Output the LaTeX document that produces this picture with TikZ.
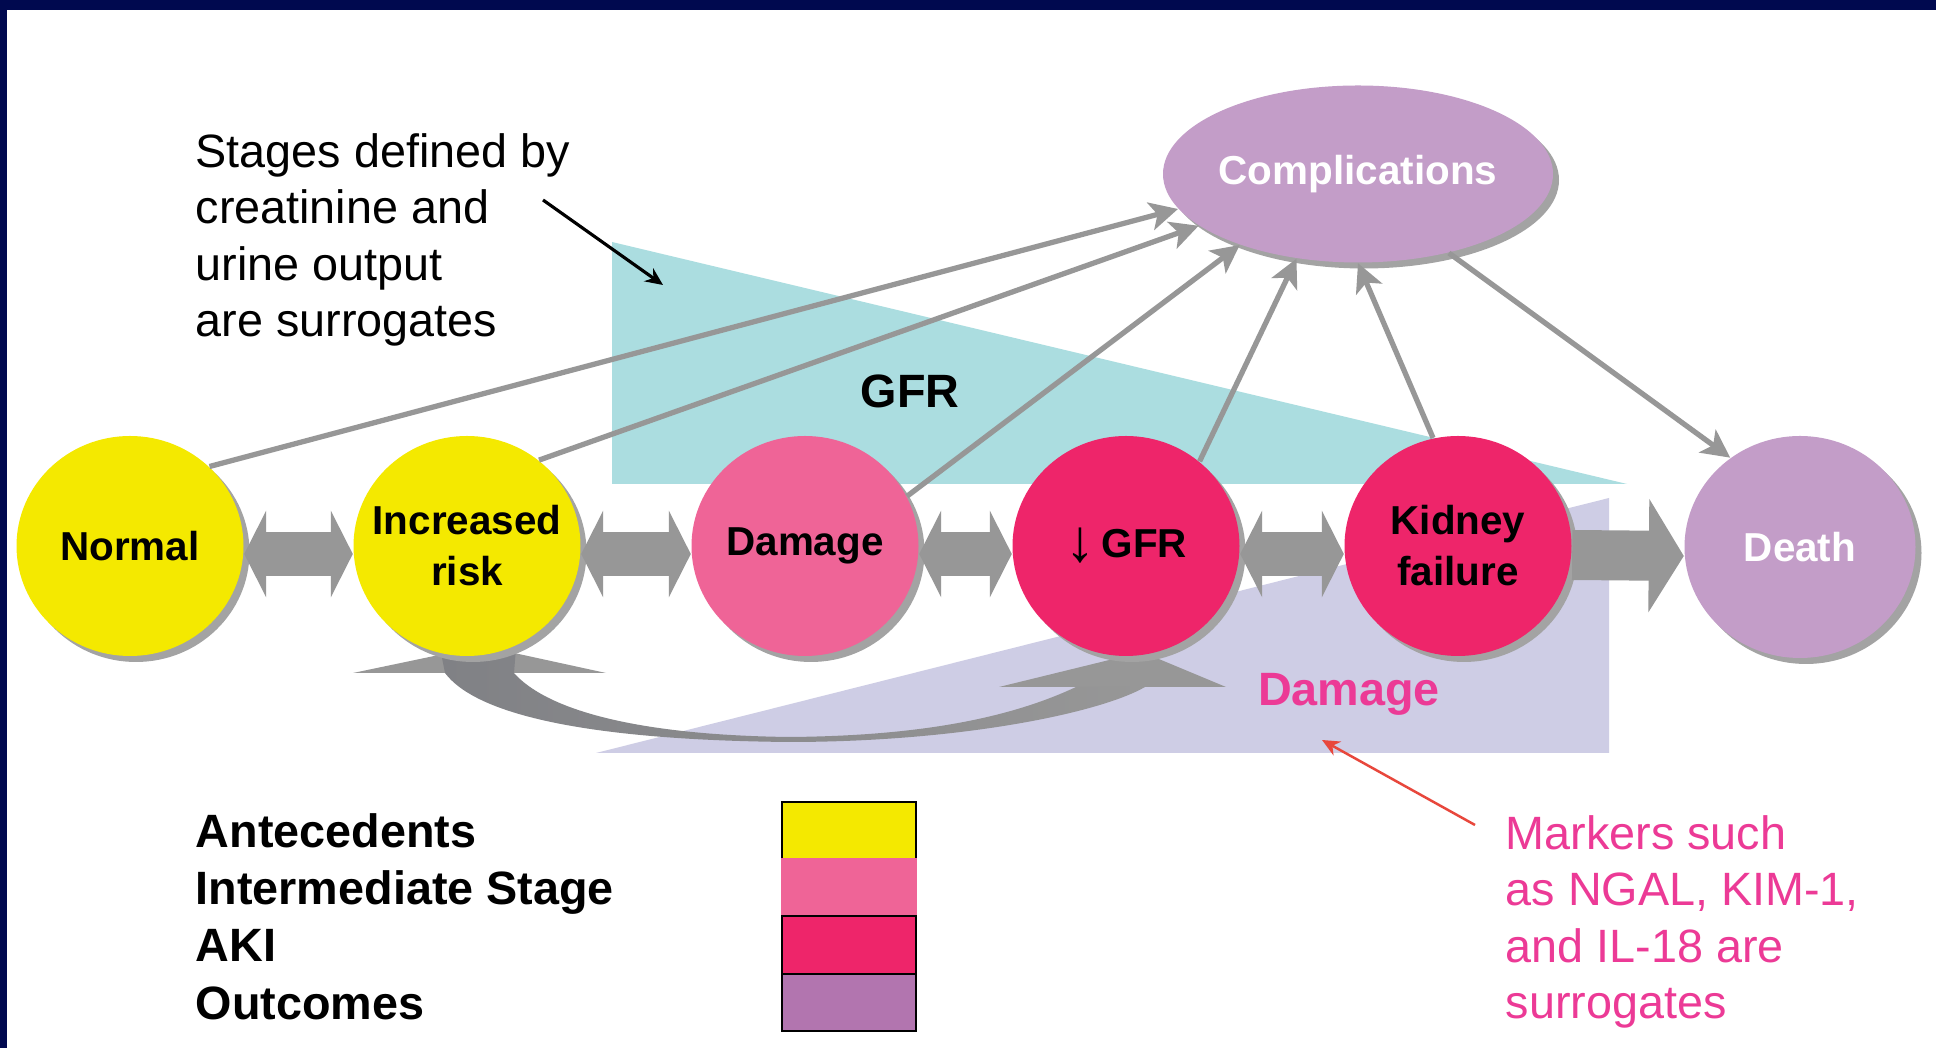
\documentclass[tikz,border=0pt]{standalone}
\usepackage{fontspec}
\setmainfont{Liberation Sans}
\usetikzlibrary{arrows.meta,shapes.geometric,shadows}

\definecolor{navy}{HTML}{00094F}
\definecolor{antec}{HTML}{F4E900}
\definecolor{inter}{HTML}{EF6497}
\definecolor{aki}{HTML}{EE256A}
\definecolor{outc}{HTML}{C39DC8}
\definecolor{outcleg}{HTML}{B275AF}
\definecolor{gfrcyan}{HTML}{ABDDE0}
\definecolor{dmglav}{HTML}{CECDE5}
\definecolor{markpink}{HTML}{EC3A96}
\definecolor{markred}{HTML}{E8473C}
\definecolor{arrowgray}{HTML}{979797}
\definecolor{curvegray}{HTML}{808185}
\definecolor{shadowgray}{HTML}{A3A3A3}

\tikzset{
  stage/.style={ellipse, fill=#1, minimum width=2.27cm, minimum height=2.2cm,
    inner sep=-3mm, align=center, font=\fontsize{11.5}{14.5}\selectfont\bfseries,
    drop shadow={shadow xshift=0.6mm, shadow yshift=-0.6mm, fill=shadowgray, opacity=1}},
  bigtext/.style={font=\fontsize{13.3}{16.1}\selectfont, inner sep=0pt},
  feed/.style={draw=arrowgray, line width=1.5pt, -{Stealth[length=8pt,width=8pt,inset=2pt]}},
  twoway/.style={arrowgray, line width=4.4mm,
    {Triangle[length=2.2mm,width=8.6mm]}-{Triangle[length=2.2mm,width=8.6mm]}},
  oneway/.style={arrowgray, line width=5mm, -{Triangle[length=3.5mm,width=11.2mm]}}
}

\begin{document}
\begin{tikzpicture}
  \useasboundingbox (0,0) rectangle (19.36,10.48);
  \fill[navy] (0,0) rectangle (19.36,10.48);
  \fill[white] (0.07,0) rectangle (19.36,10.38);

  \fill[gfrcyan] (6.12,8.06) -- (6.12,5.64) -- (16.27,5.64) -- cycle;
  \fill[dmglav] (5.96,2.95) -- (16.09,5.50) -- (16.09,2.95) -- cycle;
  \node[bigtext, font=\fontsize{13.3}{16.1}\selectfont\bfseries] (gfrlab) at (9.10,6.57) {GFR};
  \node[bigtext, font=\fontsize{13.3}{16.1}\selectfont\bfseries, text=markpink, anchor=base]
    (dmglab) at (13.49,3.42) {Damage};

  \fill[arrowgray] (3.53,3.75) -- (4.82,4.02) -- (6.06,3.75) -- cycle;
  \fill[arrowgray] (9.99,3.61) -- (11.42,3.96) -- (12.26,3.61) -- cycle;
  \shade[left color=curvegray, right color=arrowgray] (4.40,4.00) -- (4.45,3.75)
    .. controls (4.75,3.35) and (5.8,3.08) .. (7.89,3.06)
    .. controls (9.6,3.06) and (11.0,3.35) .. (11.45,3.61) -- (10.76,3.61)
    .. controls (10.1,3.30) and (9.2,3.12) .. (7.89,3.11)
    .. controls (6.3,3.13) and (5.45,3.40) .. (5.14,3.75) -- (5.16,4.00) -- cycle;

  \node[stage=antec] (normal) at (1.30,5.02) {Normal};
  \node[stage=antec] (incr) at (4.67,5.02) {Increased\\risk};
  \node[stage=inter] (damage) at (8.05,5.02) {Damage};
  \node[stage=aki] (gfr) at (11.26,5.02) {\raisebox{-0.12em}{\fontsize{17}{17}\selectfont\mdseries ↓}\,GFR};
  \node[stage=aki] (kidney) at (14.58,5.02) {Kidney\\failure};
  \node[stage=outc, text=white, minimum width=2.31cm, minimum height=2.22cm] (death) at (18.00,5.01) {Death};
  \node[stage=outc, text=white, minimum width=3.9cm, minimum height=1.77cm] (compl) at (13.58,8.74) {Complications};

  \draw[twoway] ([yshift=-0.8mm]normal.east) -- ([yshift=-0.8mm]incr.west);
  \draw[twoway] ([yshift=-0.8mm]incr.east) -- ([yshift=-0.8mm]damage.west);
  \draw[twoway] ([yshift=-0.8mm]damage.east) -- ([yshift=-0.8mm]gfr.west);
  \draw[twoway] ([yshift=-0.8mm]gfr.east) -- ([yshift=-0.8mm]kidney.west);
  \draw[oneway] ([yshift=-0.9mm]kidney.east) -- ([yshift=-0.9mm]death.west);

  \draw[feed] (normal.45) -- (compl.191);
  \draw[feed] (incr.50) -- (compl.198);
  \draw[feed] (damage.26) -- (compl.211);
  \draw[feed] (gfr.49) -- (compl.234);
  \draw[feed] (kidney.103) -- (compl.270);
  \draw[feed] (compl.319) -- (death.128);

  \node[bigtext, anchor=west, align=left] (stages) at (1.95,8.08)
    {Stages defined by\\creatinine and\\urine output\\are surrogates};
  \coordinate (stgfrom) at (5.43,8.48);
  \coordinate (stgto) at (6.63,7.63);
  \draw[line width=0.9pt, -{Stealth[length=5pt,width=4.5pt]}] (stgfrom) -- (stgto);

  \node[bigtext, anchor=west, align=left, text=markpink] (markers) at (15.05,1.26)
    {Markers such\\as NGAL, KIM-1,\\and IL-18 are\\surrogates};
  \coordinate (mkfrom) at (14.75,2.23);
  \coordinate (mkto) at (13.22,3.08);
  \draw[markred, line width=0.7pt, -{Stealth[length=5pt,width=4.5pt]}] (mkfrom) -- (mkto);

  \foreach \txt/\col/\edge [count=\i] in {Antecedents/antec/black, Intermediate Stage/inter/inter,
      AKI/aki/black, Outcomes/outcleg/black} {
    \draw[draw=\edge, fill=\col, line width=0.6pt] (7.82,{2.46-(\i-1)*0.572}) rectangle ++(1.34,-0.572);
    \node[bigtext, font=\fontsize{13.3}{16.1}\selectfont\bfseries, anchor=base west]
      (leg\i) at (1.95,{2.46-(\i-0.5)*0.572-0.17}) {\txt};
  }
\end{tikzpicture}
\end{document}
